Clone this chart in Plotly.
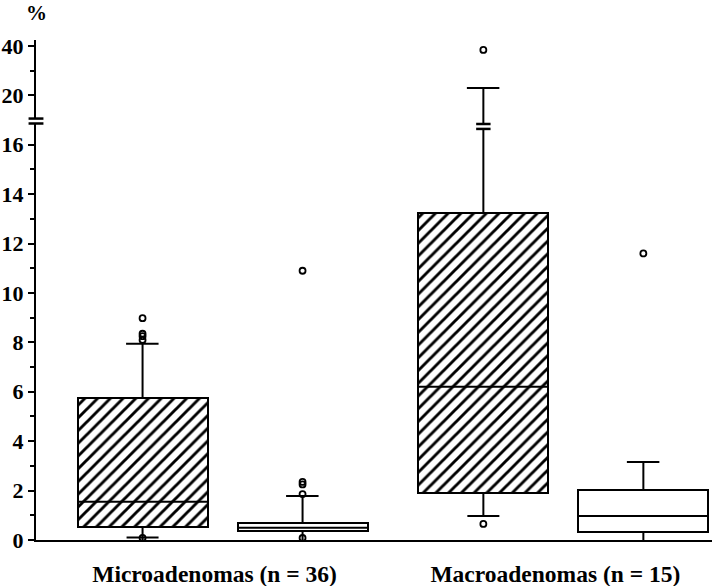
import plotly.graph_objects as go

# ---- data (values in %) ----
groups = ["Microadenomas (n = 36)", "Macroadenomas (n = 15)"]
series_hatched = [True, False, True, False]          # box style per box
box_group = [0, 0, 1, 1]
q1 = [0.53, 0.36, 1.90, 0.33]
median = [1.55, 0.50, 6.20, 0.97]
q3 = [5.75, 0.69, 13.24, 2.02]
whisker_low = [-0.2, -0.07, 0.97, 0.0]
low_cap = [0.1, None, 0.97, None]
whisker_high = [7.94, 1.78, 23.0, 3.16]
outliers = [
    [8.10, 8.25, 8.35, 8.98, 0.08],
    [1.86, 2.25, 2.35, 10.9, 0.08],
    [0.65, 38.4],
    [11.6],
]
whisker_break = [False, False, True, False]
tick_values = [0, 2, 4, 6, 8, 10, 12, 14, 16, 20, 40]
minor_values = [1, 3, 5, 7, 9, 11, 13, 15, 30]

# ---- broken axis transform ----
LIN_MAX = 16.0
BREAK_POS = 16.96


def pos(v):
    if v <= LIN_MAX:
        return v
    if v >= 20:
        return 18 + (v - 20) / 10.0
    return 16 + (v - 16) / 2.0


GROUP_GAP = 2.13
BOX_W = 0.8125
CAP_W = 0.2
xs = [box_group[i] * GROUP_GAP + (i % 2) for i in range(4)]

fig = go.Figure()

# boxes
fig.add_trace(go.Bar(
    x=xs,
    y=[pos(b) - pos(a) for a, b in zip(q1, q3)],
    base=[pos(a) for a in q1],
    width=BOX_W,
    marker=dict(
        color="white",
        line=dict(color="black", width=2),
        pattern=dict(shape=["/" if h else "" for h in series_hatched],
                     fgcolor="black", bgcolor="white", fgopacity=1,
                     size=9, solidity=0.32),
    ),
    showlegend=False, hoverinfo="skip",
))

# medians, whiskers, caps
lx, ly = [], []
for i, x in enumerate(xs):
    lx += [x - BOX_W / 2, x + BOX_W / 2, None]
    ly += [pos(median[i]), pos(median[i]), None]
    lx += [x, x, None]
    ly += [pos(q3[i]), pos(whisker_high[i]), None]
    lx += [x - CAP_W / 2 - 0.003, x + CAP_W / 2, None]
    ly += [pos(whisker_high[i]), pos(whisker_high[i]), None]
    lx += [x, x, None]
    ly += [pos(q1[i]), pos(whisker_low[i]), None]
    if low_cap[i] is not None:
        lx += [x - CAP_W / 2, x + CAP_W / 2, None]
        ly += [pos(low_cap[i]), pos(low_cap[i]), None]
fig.add_trace(go.Scatter(x=lx, y=ly, mode="lines",
                         line=dict(color="black", width=2),
                         showlegend=False, hoverinfo="skip", cliponaxis=False))

# whisker break marks (white gap with two bars)
for i, x in enumerate(xs):
    if whisker_break[i]:
        fig.add_trace(go.Scatter(
            x=[x - 0.045, x + 0.045], y=[16.74, 16.74], mode="lines",
            line=dict(color="white", width=6), showlegend=False, hoverinfo="skip"))
        fig.add_trace(go.Scatter(
            x=[x - 0.045, x + 0.045, None, x - 0.045, x + 0.045],
            y=[16.64, 16.64, None, 16.84, 16.84], mode="lines",
            line=dict(color="black", width=2.5), showlegend=False, hoverinfo="skip"))

# outliers
ox, oy = [], []
for i, x in enumerate(xs):
    for v in outliers[i]:
        ox.append(x)
        oy.append(pos(v))
fig.add_trace(go.Scatter(
    x=ox, y=oy, mode="markers",
    marker=dict(symbol="circle-open", size=6, color="black", line=dict(width=1.8)),
    showlegend=False, hoverinfo="skip", cliponaxis=False))

FONT = "Liberation Serif, DejaVu Serif, serif"
fig.update_layout(
    width=720, height=586,
    margin=dict(l=36, r=8, t=40, b=46),
    paper_bgcolor="white", plot_bgcolor="white",
    bargap=0,
    xaxis=dict(
        range=[-0.666, 3.559],
        tickvals=[(xs[0] + xs[1]) / 2 - 0.05, (xs[2] + xs[3]) / 2 - 0.05],
        ticktext=groups,
        ticks="", showgrid=False, zeroline=False, automargin=False,
        showline=True, linecolor="black", linewidth=2,
        tickfont=dict(family=FONT, size=23.5, color="black", weight="bold"),
        ticklabelstandoff=12,
    ),
    yaxis=dict(
        range=[0, 20.24], automargin=False,
        tickvals=[pos(v) for v in tick_values],
        ticktext=[str(v) for v in tick_values],
        ticks="outside", ticklen=6, tickwidth=2, tickcolor="black",
        minor=dict(tickmode="array", tickvals=[pos(v) for v in minor_values],
                   ticks="outside", ticklen=4, tickwidth=1.5, tickcolor="black"),
        showgrid=False, zeroline=False,
        showline=True, linecolor="black", linewidth=2,
        tickfont=dict(family=FONT, size=22, color="black", weight="bold"),
    ),
    shapes=[
        dict(type="line", xref="paper", yref="y", x0=-0.011, x1=0.011,
             y0=BREAK_POS, y1=BREAK_POS, line=dict(color="white", width=5)),
        dict(type="line", xref="paper", yref="y", x0=-0.011, x1=0.011,
             y0=BREAK_POS - 0.1, y1=BREAK_POS - 0.1, line=dict(color="black", width=2.5)),
        dict(type="line", xref="paper", yref="y", x0=-0.011, x1=0.011,
             y0=BREAK_POS + 0.1, y1=BREAK_POS + 0.1, line=dict(color="black", width=2.5)),
    ],
    annotations=[dict(text="%", xref="paper", yref="paper", x=0.0, y=1.0,
                      yshift=27, showarrow=False, xanchor="center", yanchor="middle",
                      font=dict(family=FONT, size=21, color="black", weight="bold"))],
)

fig.write_html("out.html", config={"displayModeBar": False},
               post_script="document.body.style.margin='0';document.body.style.padding='0';")
